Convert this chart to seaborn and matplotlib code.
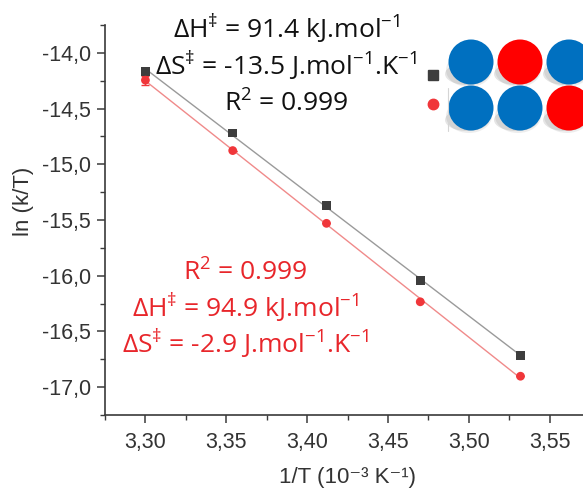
import numpy as np
import pandas as pd
import matplotlib
matplotlib.use("Agg")
import matplotlib.pyplot as plt
import seaborn as sns
from matplotlib.ticker import MultipleLocator, FuncFormatter
from matplotlib.patches import Circle, Ellipse
from matplotlib.lines import Line2D

# ---- data ----
inv_T = [3.300, 3.354, 3.412, 3.470, 3.532]          # 1/T (10^-3 K^-1)
ln_kT_black = [-14.165, -14.720, -15.368, -16.045, -16.716]
ln_kT_red = [-14.245, -14.877, -15.530, -16.234, -16.902]
red_err = [0.04, 0.0, 0.0, 0.0, 0.0]
series_names = ["ABA", "AAB"]
x_ticks = [3.30, 3.35, 3.40, 3.45, 3.50, 3.55]
y_ticks = [-14.0, -14.5, -15.0, -15.5, -16.0, -16.5, -17.0]

black_text = ["ΔH$^{\\ddag}$ = 91.4 kJ.mol$^{-1}$",
              "ΔS$^{\\ddag}$ = -13.5 J.mol$^{-1}$.K$^{-1}$",
              "R$^{2}$ = 0.999"]
red_text = ["R$^{2}$ = 0.999",
            "ΔH$^{\\ddag}$ = 94.9 kJ.mol$^{-1}$",
            "ΔS$^{\\ddag}$ = -2.9 J.mol$^{-1}$.K$^{-1}$"]

df = pd.DataFrame({
    "x": inv_T * 2,
    "y": ln_kT_black + ln_kT_red,
    "series": [series_names[0]] * 5 + [series_names[1]] * 5,
})

sns.set_style("ticks")
plt.rcParams["font.family"] = ["Liberation Sans", "DejaVu Sans"]
plt.rcParams["mathtext.fontset"] = "custom"
plt.rcParams["mathtext.rm"] = "Open Sans"
plt.rcParams["mathtext.it"] = "Open Sans:italic"
plt.rcParams["mathtext.bf"] = "Open Sans:bold"

W, H = 583, 490
fig = plt.figure(figsize=(W / 100, H / 100), dpi=100)
ax = fig.add_axes([105 / W, 1 - 415 / H, (590 - 105) / W, (415 - 25) / H])

BLACK_M = "#3d3d3d"
BLACK_L = "#9a9a9a"
RED_M = "#f0363a"
RED_L = "#f08a8a"

# fit lines
sns.regplot(x=inv_T, y=ln_kT_black, ax=ax, scatter=False, ci=None,
            line_kws=dict(color=BLACK_L, lw=1.0, zorder=2))
sns.regplot(x=inv_T, y=ln_kT_red, ax=ax, scatter=False, ci=None,
            line_kws=dict(color=RED_L, lw=1.0, zorder=2))

# error bar on red
ax.errorbar(inv_T, ln_kT_red, yerr=red_err, fmt="none", ecolor=RED_M,
            elinewidth=1.0, capsize=3, capthick=1.0, zorder=3)

# points
sns.scatterplot(data=df, x="x", y="y", hue="series", style="series",
                palette={series_names[0]: BLACK_M, series_names[1]: RED_M},
                markers={series_names[0]: "s", series_names[1]: "o"},
                s=40, linewidth=0, ax=ax, zorder=4, legend=False)

ax.xaxis.set_minor_locator(MultipleLocator(0.025))
ax.yaxis.set_minor_locator(MultipleLocator(0.25))
ax.set_xticks(x_ticks)
ax.set_yticks(y_ticks)
ax.xaxis.set_major_formatter(FuncFormatter(lambda v, p: f"{v:.2f}".replace(".", ",")))
ax.yaxis.set_major_formatter(FuncFormatter(lambda v, p: f"{v:.1f}".replace(".", ",")))
ax.set_xlim(3.275, 3.575)
ax.set_ylim(-17.25, -13.75)

for s in ["top", "right"]:
    ax.spines[s].set_visible(False)
for s in ["left", "bottom"]:
    ax.spines[s].set_color("#3a3a3a")
    ax.spines[s].set_linewidth(1.2)
ax.tick_params(which="major", direction="out", length=6, width=1.1,
               color="#3a3a3a", labelsize=15.5, labelcolor="#333333")
ax.tick_params(which="minor", direction="out", length=3.5, width=1.0,
               color="#3a3a3a")
ax.tick_params(axis="y", which="major", pad=4)
ax.tick_params(axis="x", which="major", pad=6)

ax.set_xlabel("1/T (10⁻³ K⁻¹)", fontsize=16, color="#333333")
ax.set_ylabel("ln (k/T)", fontsize=16, color="#333333")
ax.xaxis.set_label_coords((348 - 105) / (590 - 105), -(477 - 415) / (415 - 25))
ax.xaxis.label.set_va("center")
ax.yaxis.set_label_coords(-(105 - 23) / (590 - 105), (415 - 201) / (415 - 25))
ax.yaxis.label.set_va("center")

# annotations
tfam = ["Open Sans", "DejaVu Sans"]
for t, yb in zip(black_text, [38, 75, 112]):
    fig.text(286 / W, 1 - yb / H, t, ha="center", va="baseline",
             fontsize=19, color="#111111", family=tfam)
for t, yb in zip(red_text, [281, 317, 353]):
    fig.text(245 / W, 1 - yb / H, t, ha="center", va="baseline",
             fontsize=19, color="#e8262b", family=tfam)

# legend markers
handles = [Line2D([], [], ls="none", marker="s", color=BLACK_M, markersize=7),
           Line2D([], [], ls="none", marker="o", color=RED_M, markersize=7.5)]
fig.legend(handles, ["", ""], loc="center", bbox_to_anchor=(433 / W, 1 - 91 / H),
           frameon=False, handlelength=0.8, handletextpad=0, borderpad=0,
           labelspacing=0.85, fontsize=12)

# decorative picture of circles (pixel coordinate overlay)
ov = fig.add_axes([0, 0, 1, 1], zorder=5)
ov.set_xlim(0, W)
ov.set_ylim(H, 0)
ov.axis("off")
ov.patch.set_alpha(0)
rows = [(62, ["#0070c0", "#ff0000", "#0070c0"]),
        (108, ["#0070c0", "#0070c0", "#ff0000"])]
xs = [471, 520, 569]
for yc, cols in rows:
    for xc in xs:
        ov.add_patch(Ellipse((xc - 4, yc + 12), 44, 22, color="#000000",
                             alpha=0.10, lw=0))
        ov.add_patch(Ellipse((xc - 2, yc + 8), 46, 34, color="#000000",
                             alpha=0.07, lw=0))
    for xc, c in zip(xs, cols):
        ov.add_patch(Circle((xc, yc), 22.5, color=c, lw=0))
ov.plot([448, 448], [88, 131], color="#d5d5d5", lw=0.8)

fig.savefig("out.png", dpi=100)
